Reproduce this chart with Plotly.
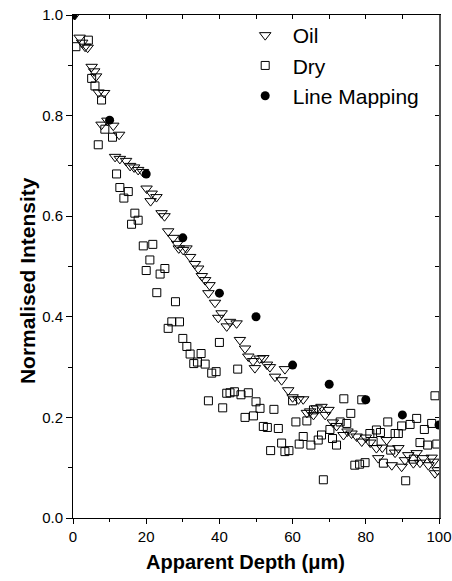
import plotly.graph_objects as go

# Oil (open down-triangles)
oil_x = [0.5, 1.8, 2.5, 3.3, 4.0, 5.1, 5.8, 6.3, 7.0, 8.5, 7.8, 9.4, 11.0, 12.6, 11.5, 12.8,
         14.5, 15.6, 16.7, 17.8, 19.1, 20.1, 21.5, 21.2, 22.8, 24.2, 25.0, 26.0, 27.4, 28.5,
         28.9, 30.1, 31.0, 32.0, 33.3, 34.2, 35.2, 36.1, 37.3, 37.0, 38.8, 39.7, 40.6, 42.0,
         42.9, 44.7, 45.6, 47.0, 47.9, 49.2, 49.7, 51.0, 52.0, 53.0, 53.8, 55.2, 57.0, 57.9,
         58.8, 60.0, 61.6, 62.9, 63.9, 64.8, 65.7, 66.6, 67.9, 68.9, 69.8, 71.0, 72.0, 73.9,
         75.0, 76.1, 77.5, 78.9, 80.0, 81.2, 82.9, 83.4, 84.5, 85.7, 87.1, 88.0, 88.9, 89.8,
         90.7, 91.6, 93.0, 93.9, 94.8, 95.7, 97.1, 98.0, 98.5, 98.9, 99.6]
oil_y = [1.0, 0.955, 0.945, 0.937, 0.935, 0.897, 0.888, 0.878, 0.846, 0.845, 0.782, 0.79, 0.78,
         0.762, 0.718, 0.714, 0.71, 0.70, 0.697, 0.692, 0.688, 0.655, 0.645, 0.63, 0.638, 0.606,
         0.600, 0.570, 0.557, 0.545, 0.536, 0.533, 0.536, 0.519, 0.505, 0.496, 0.481, 0.473,
         0.463, 0.447, 0.428, 0.398, 0.407, 0.381, 0.390, 0.387, 0.354, 0.337, 0.321, 0.312,
         0.298, 0.317, 0.318, 0.305, 0.300, 0.281, 0.274, 0.296, 0.254, 0.240, 0.236, 0.236,
         0.209, 0.212, 0.205, 0.218, 0.221, 0.205, 0.215, 0.190, 0.183, 0.165, 0.172, 0.168,
         0.162, 0.152, 0.160, 0.150, 0.139, 0.119, 0.140, 0.155, 0.105, 0.130, 0.139, 0.102,
         0.115, 0.125, 0.109, 0.129, 0.110, 0.119, 0.105, 0.120, 0.112, 0.089, 0.095]

# Dry (open squares)
dry_x = [0.8, 4.2, 5.1, 6.0, 7.8, 8.7, 6.9, 10.8, 11.9, 12.8, 13.9, 15.1, 16.0, 16.9, 17.8,
         19.2, 20.0, 21.0, 21.8, 22.9, 23.8, 25.1, 26.0, 27.0, 28.0, 29.1, 30.0, 31.1, 32.0,
         33.0, 34.0, 35.0, 36.1, 37.0, 37.9, 39.1, 40.0, 40.9, 42.0, 42.9, 44.1, 45.0, 45.9,
         47.0, 47.9, 49.3, 50.0, 51.1, 52.0, 53.1, 54.0, 54.9, 56.1, 57.0, 57.9, 59.0, 60.0,
         60.9, 61.8, 62.9, 63.9, 65.0, 65.7, 67.0, 67.9, 68.4, 70.2, 70.9, 72.0, 73.0, 74.0,
         74.8, 75.9, 77.0, 78.3, 78.9, 79.8, 81.1, 82.0, 82.9, 84.0, 84.8, 86.0, 86.8, 88.0,
         88.9, 89.8, 90.9, 92.1, 93.0, 93.9, 94.8, 96.0, 96.9, 98.0, 98.9, 99.4]
dry_y = [0.937, 0.95, 0.874, 0.859, 0.831, 0.773, 0.742, 0.757, 0.684, 0.657, 0.636, 0.649,
         0.584, 0.606, 0.592, 0.541, 0.492, 0.513, 0.544, 0.448, 0.485, 0.496, 0.377, 0.39,
         0.43, 0.39, 0.357, 0.341, 0.326, 0.307, 0.31, 0.327, 0.306, 0.233, 0.288, 0.291,
         0.349, 0.219, 0.248, 0.249, 0.251, 0.296, 0.245, 0.20, 0.249, 0.203, 0.231, 0.218,
         0.182, 0.18, 0.134, 0.216, 0.178, 0.149, 0.132, 0.134, 0.233, 0.191, 0.147, 0.162,
         0.193, 0.145, 0.215, 0.155, 0.165, 0.076, 0.176, 0.158, 0.145, 0.191, 0.237, 0.188,
         0.208, 0.105, 0.107, 0.235, 0.11, 0.168, 0.152, 0.175, 0.17, 0.109, 0.191, 0.135,
         0.168, 0.168, 0.183, 0.074, 0.186, 0.117, 0.198, 0.15, 0.176, 0.145, 0.188, 0.243,
         0.147]

# Line Mapping (filled circles)
lm_x = [0, 10, 20, 30, 40, 50, 60, 70, 80, 90, 100]
lm_y = [1.0, 0.791, 0.684, 0.557, 0.447, 0.40, 0.304, 0.266, 0.235, 0.205, 0.185]

x_ticks = [0, 20, 40, 60, 80, 100]
y_ticks = [0.0, 0.2, 0.4, 0.6, 0.8, 1.0]

FONT = "Arial, Liberation Sans, sans-serif"

fig = go.Figure()
fig.add_trace(go.Scatter(x=oil_x, y=oil_y, mode="markers", name="Oil",
                         marker=dict(symbol="triangle-down-open", size=10, color="black",
                                     line=dict(width=1, color="black"))))
fig.add_trace(go.Scatter(x=dry_x, y=dry_y, mode="markers", name="Dry",
                         marker=dict(symbol="square-open", size=8, color="black",
                                     line=dict(width=1, color="black"))))
fig.add_trace(go.Scatter(x=lm_x, y=lm_y, mode="markers", name="Line Mapping",
                         marker=dict(symbol="circle", size=9, color="black")))
# dummy trace to register mirror axes
fig.add_trace(go.Scatter(x=[None], y=[None], xaxis="x2", yaxis="y2", showlegend=False,
                         hoverinfo="skip"))

fig.update_layout(
    width=452, height=581,
    margin=dict(l=73, r=13, t=15, b=63, autoexpand=False),
    paper_bgcolor="white", plot_bgcolor="white",
    font=dict(family=FONT, size=15, color="black"),
    showlegend=True,
    legend=dict(x=0.45, y=1.0, xanchor="left", yanchor="top",
                font=dict(size=21, family=FONT), bgcolor="rgba(0,0,0,0)",
                itemsizing="trace", itemwidth=45, tracegroupgap=0),
    xaxis=dict(range=[0, 100], tickvals=x_ticks, ticktext=[str(v) for v in x_ticks],
               ticks="outside", ticklen=5, tickwidth=1, tickcolor="black",
               minor=dict(dtick=10, tick0=0, ticks="outside", ticklen=3, tickcolor="black"),
               showline=True, linecolor="black", linewidth=1, showgrid=False, zeroline=False,
               tickfont=dict(size=15), automargin=False),
    yaxis=dict(range=[0, 1.0], tickvals=y_ticks, ticktext=[f"{v:.1f}" for v in y_ticks],
               ticks="outside", ticklen=6, tickwidth=1, tickcolor="black",
               minor=dict(dtick=0.1, tick0=0, ticks="outside", ticklen=4, tickcolor="black"),
               showline=True, linecolor="black", linewidth=1, showgrid=False, zeroline=False,
               tickfont=dict(size=15), automargin=False),
    xaxis2=dict(range=[0, 100], overlaying="x", side="top", anchor="y",
                dtick=10, tick0=0, ticks="inside", ticklen=4, tickcolor="black",
                showticklabels=False, showline=True, linecolor="black", linewidth=1,
                showgrid=False, zeroline=False, automargin=False),
    yaxis2=dict(range=[0, 1.0], overlaying="y", side="right", anchor="x",
                dtick=0.1, tick0=0, ticks="inside", ticklen=4, tickcolor="black",
                showticklabels=False, showline=True, linecolor="#555555", linewidth=2,
                showgrid=False, zeroline=False, automargin=False),
    annotations=[
        dict(text="<b>Apparent Depth (μm)</b>", xref="paper", yref="paper",
             x=0.47, y=-0.0875, xanchor="center", yanchor="middle", showarrow=False,
             font=dict(size=20, family=FONT)),
        dict(text="<b>Normalised Intensity</b>", xref="paper", yref="paper",
             x=-0.1257, y=0.473, xanchor="center", yanchor="middle", showarrow=False,
             textangle=-90, font=dict(size=21, family=FONT)),
    ],
)

fig.write_html("out.html")
